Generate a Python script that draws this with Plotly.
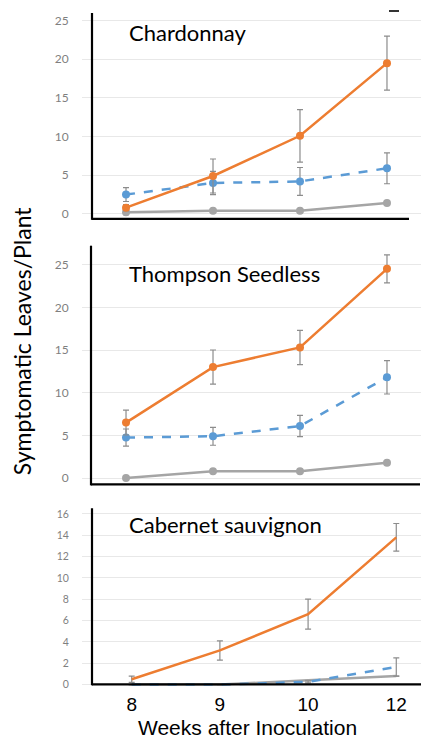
import plotly.graph_objects as go

weeks = ["8", "9", "10", "12"]
xpos = [0, 1, 2, 3]

chard_orange = [0.8, 4.9, 10.1, 19.5]
chard_orange_err = [0.4, 2.2, 3.4, 3.5]
chard_blue = [2.5, 4.0, 4.2, 5.9]
chard_blue_err = [0.9, 1.5, 1.8, 2.0]
chard_gray = [0.2, 0.4, 0.4, 1.4]
chard_gray_err = [0.3, 0.2, 0.2, 0.3]

thomp_orange = [6.5, 13.0, 15.3, 24.5]
thomp_orange_err = [1.45, 2.0, 2.0, 1.65]
thomp_blue = [4.75, 4.9, 6.1, 11.8]
thomp_blue_err = [1.0, 1.05, 1.25, 1.95]
thomp_gray = [0.0, 0.8, 0.8, 1.8]
thomp_gray_err = [0.0, 0.15, 0.15, 0.2]

cab_orange = [0.5, 3.2, 6.6, 13.8]
cab_orange_err = [0.3, 0.9, 1.4, 1.3]
cab_blue = [0.0, 0.0, 0.25, 1.65]
cab_blue_err = [0.0, 0.0, 0.1, 0.85]
cab_gray = [0.0, 0.0, 0.4, 0.8]
cab_gray_err = [0.0, 0.0, 0.0, 0.0]

panel_titles = ["Chardonnay", "Thompson Seedless", "Cabernet sauvignon"]

ORANGE = "#ED7D31"
BLUE = "#5B9BD5"
GRAY = "#A5A5A5"
ERR = "#8C8C8C"

# page has an 8px body margin; figure sized to fit the 429x740 window
OFF = 8
W, H = 429 - OFF, 740 - OFF

def px(p):
    return (p - OFF) / W

def py(p):
    return 1 - (p - OFF) / H

fig = go.Figure()

panels = [
    dict(o=chard_orange, oe=chard_orange_err, b=chard_blue, be=chard_blue_err,
         g=chard_gray, ge=chard_gray_err, markers=True, xa="x", ya="y"),
    dict(o=thomp_orange, oe=thomp_orange_err, b=thomp_blue, be=thomp_blue_err,
         g=thomp_gray, ge=thomp_gray_err, markers=True, xa="x2", ya="y2"),
    dict(o=cab_orange, oe=cab_orange_err, b=cab_blue, be=cab_blue_err,
         g=cab_gray, ge=cab_gray_err, markers=False, xa="x3", ya="y3"),
]

for p in panels:
    mode = "lines+markers" if p["markers"] else "lines"
    for vals, errs, col, dash in [(p["g"], p["ge"], GRAY, "solid"),
                                  (p["b"], p["be"], BLUE, "dash"),
                                  (p["o"], p["oe"], ORANGE, "solid")]:
        fig.add_trace(go.Scatter(
            x=xpos, y=vals, mode=mode, xaxis=p["xa"], yaxis=p["ya"],
            line=dict(color=col, width=2.5, dash=dash),
            marker=dict(color=col, size=8),
            error_y=dict(type="data", array=errs, visible=True,
                         color=ERR, thickness=1.2, width=3),
            showlegend=False, cliponaxis=True))

xdom = [px(82), 1]
grid = "#E8E8E8"
tickfont_y = dict(family="Lato", size=12, color="#7F7F7F")

common_y = dict(showgrid=True, gridcolor=grid, gridwidth=1, zeroline=False,
                showline=False, ticks="outside", tickcolor="rgba(0,0,0,0)",
                ticklen=10, tickfont=tickfont_y)

fig.update_layout(
    width=W, height=H, margin=dict(l=0, r=0, t=0, b=0),
    paper_bgcolor="white", plot_bgcolor="white",
    xaxis=dict(domain=xdom, range=[-0.506, 3.483], showgrid=False, zeroline=False,
               showticklabels=False, anchor="y"),
    xaxis2=dict(domain=xdom, range=[-0.506, 3.483], showgrid=False, zeroline=False,
                showticklabels=False, anchor="y2"),
    xaxis3=dict(domain=xdom, range=[-0.5635, 3.371], showgrid=False, zeroline=False,
                tickmode="array", tickvals=xpos, ticktext=weeks,
                ticks="outside", ticklen=1, tickcolor="rgba(0,0,0,0)",
                tickfont=dict(family="Liberation Sans", size=19, color="#000000"),
                anchor="y3"),
    yaxis=dict(domain=[py(221), py(12)], range=[-0.77, 26.12],
               tickvals=[0, 5, 10, 15, 20, 25], anchor="x", **common_y),
    yaxis2=dict(domain=[py(488), py(246)], range=[-0.85, 27.33],
                tickvals=[0, 5, 10, 15, 20, 25], anchor="x2", **common_y),
    yaxis3=dict(domain=[py(690), py(510)], range=[-0.16, 16.62],
                tickvals=[0, 2, 4, 6, 8, 10, 12, 14, 16], anchor="x3",
                **{**common_y, "tickfont": dict(family="Lato", size=10.5, color="#7F7F7F")}),
)

# black axis lines (reference pixel positions converted to paper coords)
axis_lines = [
    (92, 13, 92, 221), (92, 220, 409, 220),
    (91, 247, 91, 488), (91, 487, 420, 487),
    (92, 511, 92, 689), (92, 688, 429, 688),
]
for x0, y0, x1, y1 in axis_lines:
    fig.add_shape(type="line", xref="paper", yref="paper",
                  x0=px(x0), y0=py(y0), x1=px(x1), y1=py(y1),
                  line=dict(color="#000000", width=2.2), layer="above")

# small dark mark at top right (artifact in original)
fig.add_shape(type="line", xref="paper", yref="paper",
              x0=px(389), y0=py(11), x1=px(399), y1=py(11),
              line=dict(color="#333333", width=2), layer="above")

for title, yc in zip(panel_titles, [33, 275, 527]):
    fig.add_annotation(text=title, xref="paper", yref="paper",
                       x=px(127), y=py(yc), xanchor="left", yanchor="middle",
                       showarrow=False,
                       font=dict(family="Lato", size=22, color="#000000"))

fig.add_annotation(text="Weeks after Inoculation", xref="paper", yref="paper",
                   x=px(247), y=py(731), xanchor="center", yanchor="middle",
                   showarrow=False,
                   font=dict(family="Liberation Sans", size=21, color="#000000"))

fig.add_annotation(text="Symptomatic Leaves/Plant", xref="paper", yref="paper",
                   x=px(22), y=py(343), xanchor="center", yanchor="middle",
                   textangle=-90, showarrow=False,
                   font=dict(family="Lato", size=23, color="#000000"))

fig.write_html("out.html")
